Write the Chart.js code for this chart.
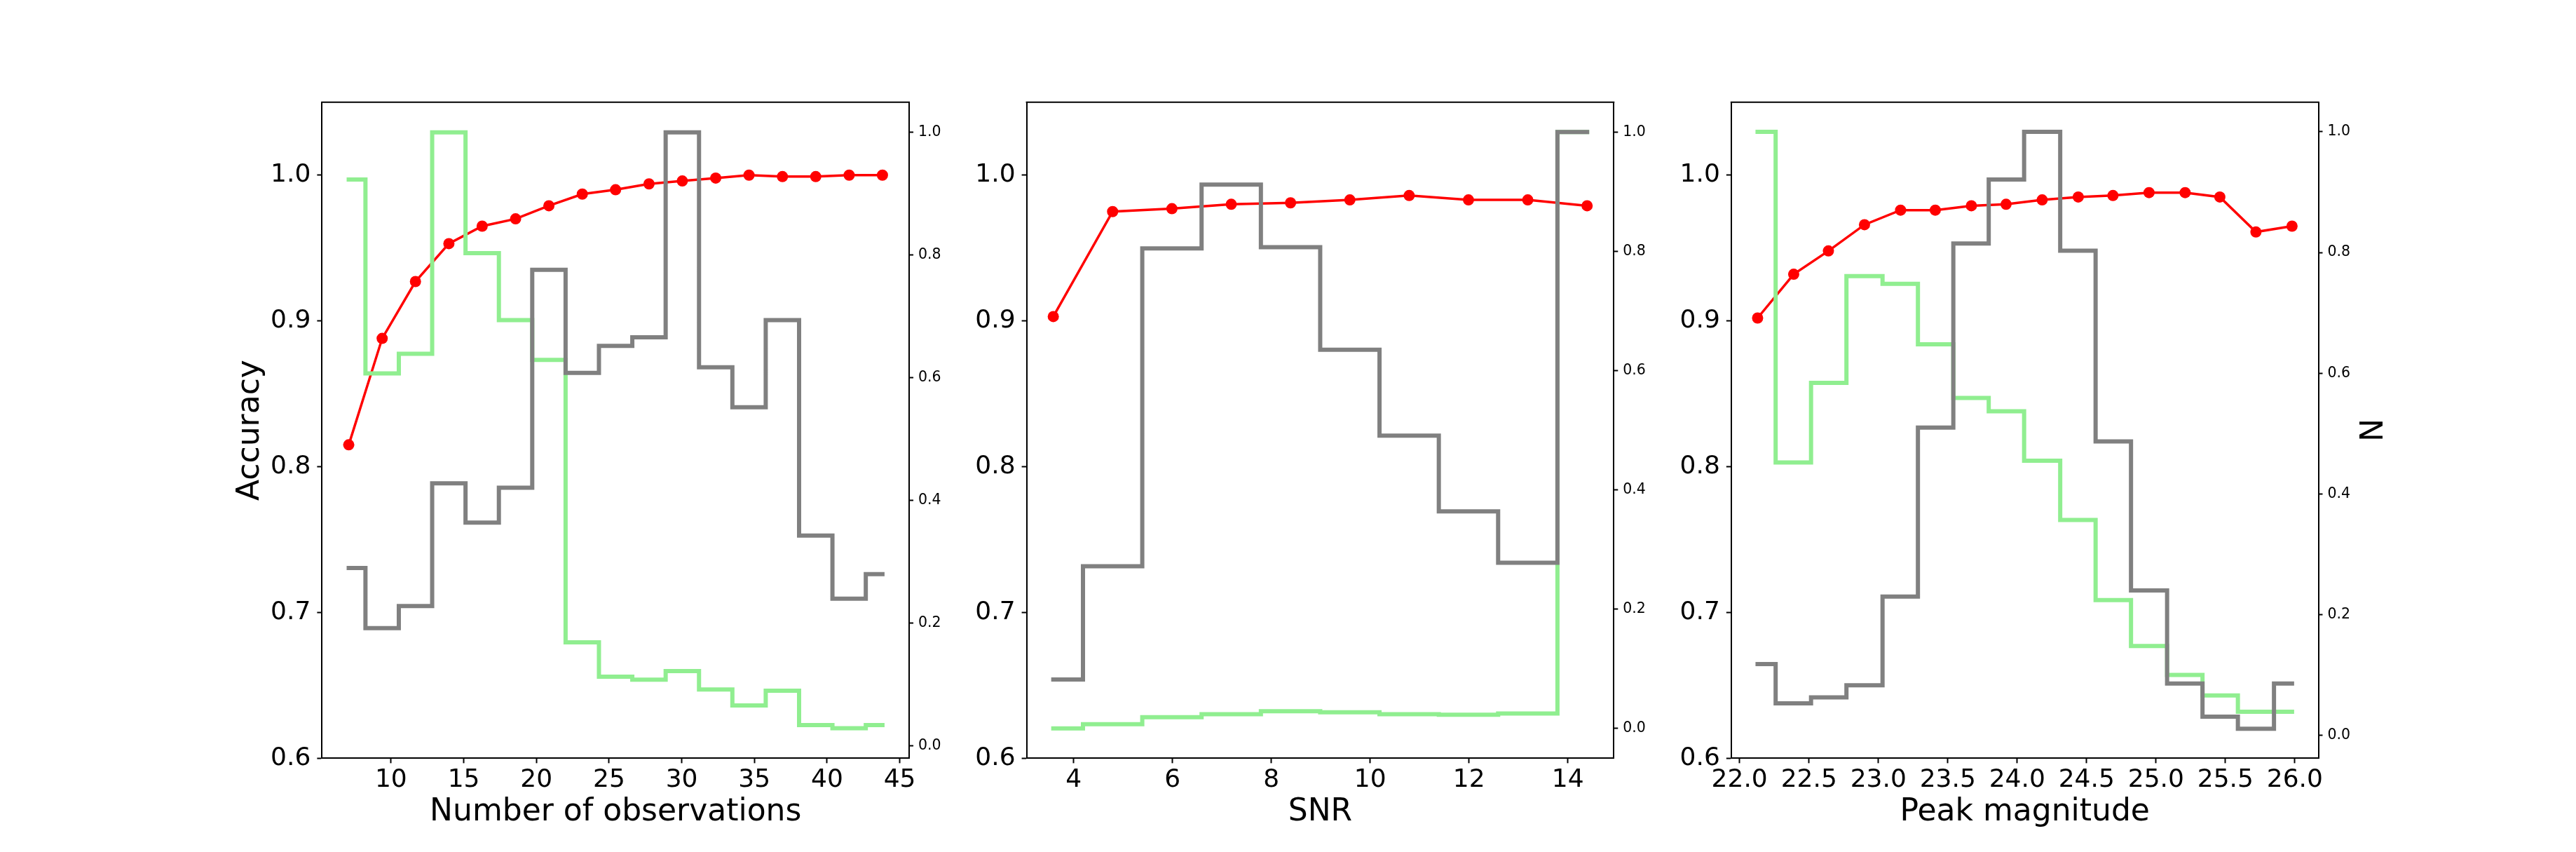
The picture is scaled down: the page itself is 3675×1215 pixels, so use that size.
<!DOCTYPE html>
<html lang="en">
<head>
<meta charset="UTF-8">
<title>Accuracy vs observations, SNR and peak magnitude</title>
<script src="https://cdn.jsdelivr.net/npm/chart.js"></script>
<style>
  body { margin: 0; background: #fff; }
  #fig { position: relative; width: 3675px; height: 1215px; overflow: hidden; background: #fff; }
  #fig canvas { position: absolute; top: 0; }
</style>
</head>
<body>
<div id="fig">
  <canvas id="obsChart"></canvas>
  <canvas id="snrChart"></canvas>
  <canvas id="magChart"></canvas>
</div>
<script>
// --- panel 1: number of observations
const obsX = [7.09, 9.39, 11.68, 13.98, 16.27, 18.57, 20.86, 23.16, 25.45, 27.75, 30.04, 32.34, 34.63, 36.93, 39.22, 41.52, 43.81];
const obsAccuracy = [0.815, 0.888, 0.927, 0.953, 0.965, 0.970, 0.979, 0.987, 0.990, 0.994, 0.996, 0.998, 1.000, 0.999, 0.999, 1.000, 1.000];
const obsGrey = [0.290, 0.192, 0.228, 0.428, 0.364, 0.421, 0.776, 0.608, 0.652, 0.666, 1.000, 0.617, 0.552, 0.694, 0.343, 0.240, 0.280];
const obsGreen = [0.923, 0.607, 0.639, 1.000, 0.803, 0.694, 0.629, 0.169, 0.113, 0.108, 0.122, 0.092, 0.066, 0.090, 0.034, 0.029, 0.034];
const obsTicks = [10, 15, 20, 25, 30, 35, 40, 45];

// --- panel 2: SNR
const snrX = [3.59, 4.79, 5.99, 7.19, 8.39, 9.59, 10.79, 11.99, 13.19, 14.39];
const snrAccuracy = [0.903, 0.975, 0.977, 0.980, 0.981, 0.983, 0.986, 0.983, 0.983, 0.979];
const snrGrey = [0.082, 0.272, 0.805, 0.912, 0.807, 0.635, 0.491, 0.364, 0.278, 1.000];
const snrGreen = [0.000, 0.007, 0.019, 0.024, 0.029, 0.027, 0.024, 0.023, 0.025, 1.000];
const snrTicks = [4, 6, 8, 10, 12, 14];

// --- panel 3: peak magnitude
const magX = [22.13, 22.39, 22.64, 22.90, 23.16, 23.41, 23.67, 23.92, 24.18, 24.44, 24.69, 24.95, 25.21, 25.46, 25.72, 25.98];
const magAccuracy = [0.902, 0.932, 0.948, 0.966, 0.976, 0.976, 0.979, 0.980, 0.983, 0.985, 0.986, 0.988, 0.988, 0.985, 0.961, 0.965];
const magGrey = [0.118, 0.053, 0.063, 0.083, 0.230, 0.510, 0.815, 0.921, 1.000, 0.803, 0.487, 0.240, 0.086, 0.031, 0.011, 0.086];
const magGreen = [1.000, 0.452, 0.584, 0.761, 0.748, 0.648, 0.559, 0.537, 0.455, 0.357, 0.224, 0.148, 0.100, 0.066, 0.039, 0.039];
const magTicks = [22.0, 22.5, 23.0, 23.5, 24.0, 24.5, 25.0, 25.5, 26.0];

// shared y ticks
const accTicks = [0.6, 0.7, 0.8, 0.9, 1.0];
const nTicks = [0.0, 0.2, 0.4, 0.6, 0.8, 1.0];

// figure geometry (matplotlib default subplot params)
const FIG_W = 3675, FIG_H = 1215;
const AX_TOP = 0.12 * FIG_H;
const AX_BOTTOM = 0.89 * FIG_H;
const PANEL_W = (0.775 * FIG_W) / 3.4;
const GAP = 0.2 * PANEL_W;
const LEFT_PAD = 160, RIGHT_PAD = 140;
const FONT = "'DejaVu Sans', 'Liberation Sans', sans-serif";

// top spine, chart.js has no top axis here
const frame = {
  id: 'frame',
  afterDraw(chart) {
    const {ctx, chartArea: a} = chart;
    ctx.save();
    ctx.strokeStyle = '#000';
    ctx.lineWidth = 2;
    ctx.beginPath();
    ctx.moveTo(a.left - 1, a.top);
    ctx.lineTo(a.right + 1, a.top);
    ctx.stroke();
    ctx.restore();
  }
};

function pts(xs, ys) {
  return xs.map((x, i) => ({x: x, y: ys[i]}));
}

function makePanel(id, index, p) {
  const axLeft = 0.125 * FIG_W + index * (PANEL_W + GAP);
  const canvas = document.getElementById(id);
  const cssLeft = Math.floor(axLeft - LEFT_PAD);
  const leftW = axLeft - cssLeft;
  const width = Math.ceil(leftW + PANEL_W + RIGHT_PAD);
  const rightW = width - leftW - PANEL_W;
  canvas.width = width;
  canvas.height = FIG_H;
  canvas.style.left = cssLeft + 'px';

  new Chart(canvas.getContext('2d'), {
    type: 'line',
    data: {
      datasets: [
        {
          data: pts(p.x, p.grey),
          yAxisID: 'y2',
          borderColor: '#808080',
          borderWidth: 6,
          borderCapStyle: 'square',
          stepped: 'middle',
          pointRadius: 0,
          order: 1
        },
        {
          data: pts(p.x, p.green),
          yAxisID: 'y2',
          borderColor: '#90ee90',
          borderWidth: 6,
          borderCapStyle: 'square',
          stepped: 'middle',
          pointRadius: 0,
          order: 2
        },
        {
          data: pts(p.x, p.acc),
          yAxisID: 'y',
          borderColor: '#ff0000',
          backgroundColor: '#ff0000',
          borderWidth: 3.5,
          pointRadius: 8,
          pointBorderWidth: 0,
          pointBackgroundColor: '#ff0000',
          tension: 0,
          order: 3
        }
      ]
    },
    options: {
      responsive: false,
      animation: false,
      events: [],
      layout: { padding: { top: AX_TOP, left: 0, right: 0, bottom: 0 } },
      plugins: { legend: { display: false }, tooltip: { enabled: false } },
      scales: {
        x: {
          type: 'linear',
          min: p.xMin,
          max: p.xMax,
          afterBuildTicks: s => { s.ticks = p.xTicks.map(v => ({value: v})); },
          afterFit: s => { s.height = FIG_H - AX_BOTTOM; },
          ticks: {
            font: { family: FONT, size: 36 },
            color: '#000',
            padding: 2.5,
            maxRotation: 0,
            autoSkip: false,
            callback: p.xFmt
          },
          grid: { drawOnChartArea: false, tickLength: 7, tickWidth: 2, tickColor: '#000' },
          border: { color: '#000', width: 2 },
          title: {
            display: true,
            text: p.xTitle,
            color: '#000',
            font: { family: FONT, size: 44 },
            padding: { top: 0, bottom: 30 }
          }
        },
        y: {
          position: 'left',
          min: 0.6,
          max: 1.05,
          afterBuildTicks: s => { s.ticks = accTicks.map(v => ({value: v})); },
          afterFit: s => { s.width = leftW; },
          ticks: {
            font: { family: FONT, size: 36 },
            color: '#000',
            padding: 9,
            callback: v => v.toFixed(1)
          },
          grid: { drawOnChartArea: false, tickLength: 7, tickWidth: 2, tickColor: '#000' },
          border: { color: '#000', width: 2 },
          title: {
            display: index === 0,
            text: 'Accuracy',
            color: '#000',
            font: { family: FONT, size: 44 },
            padding: { top: 32, bottom: 0 }
          }
        },
        y2: {
          position: 'right',
          min: p.nMin,
          max: p.nMax,
          afterBuildTicks: s => { s.ticks = nTicks.map(v => ({value: v})); },
          afterFit: s => { s.width = rightW; },
          ticks: {
            font: { family: FONT, size: 20.5 },
            color: '#000',
            padding: 7,
            callback: v => v.toFixed(1)
          },
          grid: { drawOnChartArea: false, tickLength: 6, tickWidth: 2, tickColor: '#000' },
          border: { color: '#000', width: 2 },
          title: {
            display: index === 2,
            text: 'N',
            color: '#000',
            font: { family: FONT, size: 44 },
            padding: { top: 44, bottom: 0 }
          }
        }
      }
    },
    plugins: [frame]
  });
}

makePanel('obsChart', 0, {
  x: obsX, acc: obsAccuracy, grey: obsGrey, green: obsGreen,
  xMin: 5.25, xMax: 45.65, xTicks: obsTicks, xFmt: v => String(v),
  nMin: -0.02, nMax: 1.049, xTitle: 'Number of observations'
});
makePanel('snrChart', 1, {
  x: snrX, acc: snrAccuracy, grey: snrGrey, green: snrGreen,
  xMin: 3.05, xMax: 14.93, xTicks: snrTicks, xFmt: v => String(v),
  nMin: -0.05, nMax: 1.05, xTitle: 'SNR'
});
makePanel('magChart', 2, {
  x: magX, acc: magAccuracy, grey: magGrey, green: magGreen,
  xMin: 21.94, xMax: 26.17, xTicks: magTicks, xFmt: v => v.toFixed(1),
  nMin: -0.038, nMax: 1.049, xTitle: 'Peak magnitude'
});
</script>
</body>
</html>
